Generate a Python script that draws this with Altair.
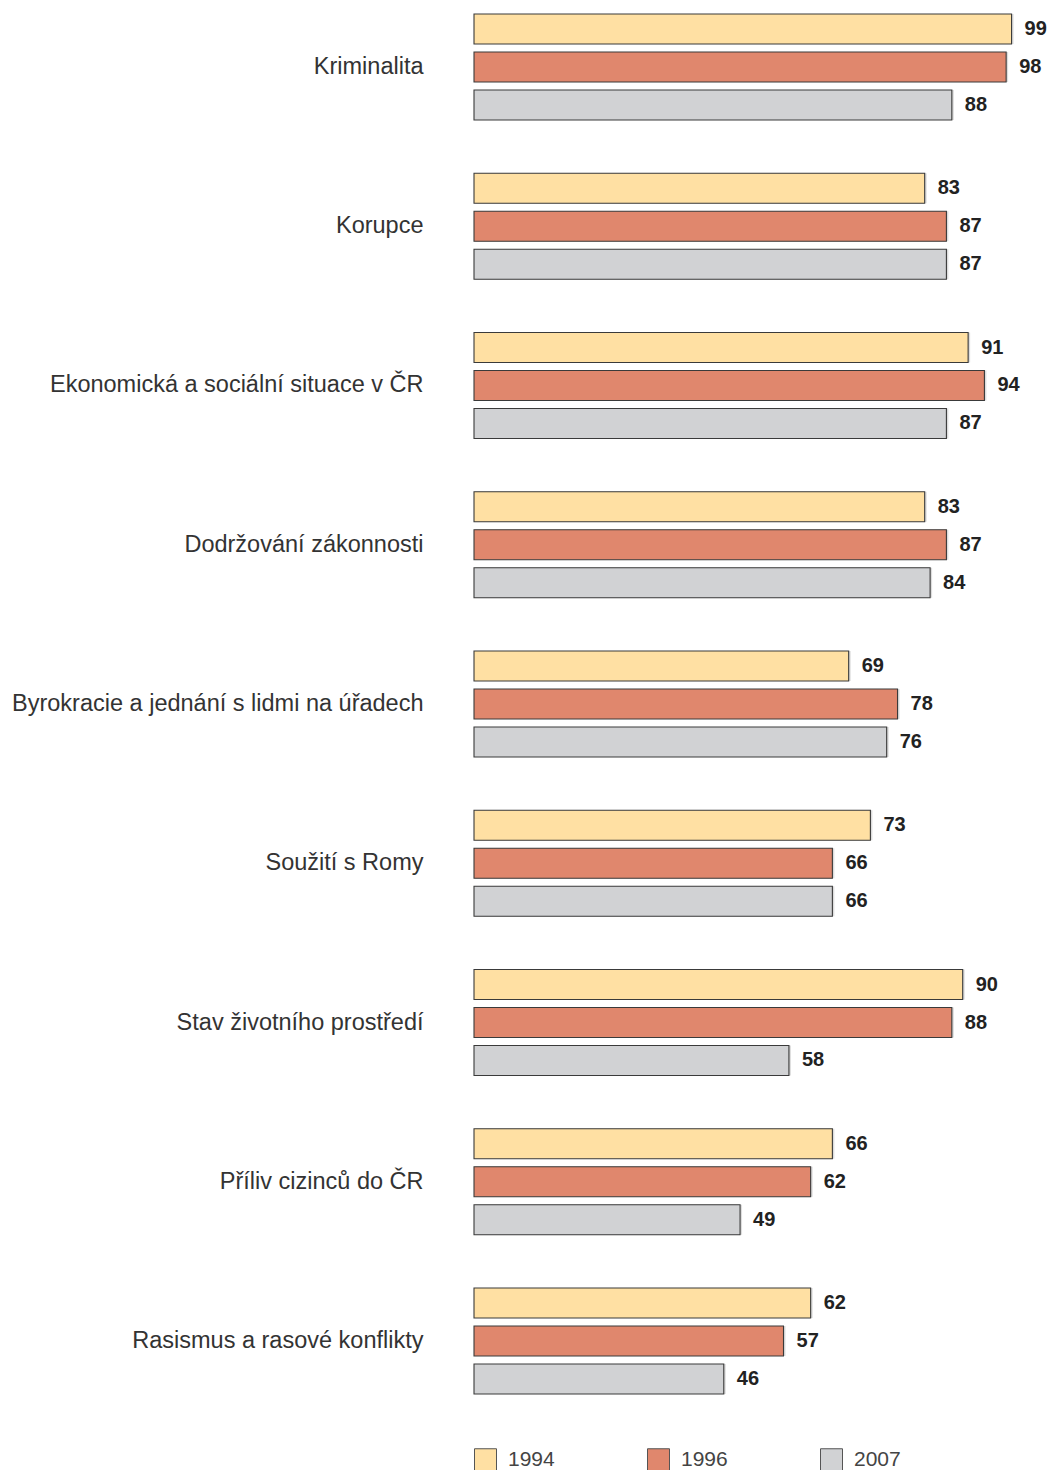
import altair as alt
import pandas as pd

categories = [
    "Kriminalita",
    "Korupce",
    "Ekonomická a sociální situace v ČR",
    "Dodržování zákonnosti",
    "Byrokracie a jednání s lidmi na úřadech",
    "Soužití s Romy",
    "Stav životního prostředí",
    "Příliv cizinců do ČR",
    "Rasismus a rasové konflikty",
]
v1994 = [99, 83, 91, 83, 69, 73, 90, 66, 62]
v1996 = [98, 87, 94, 87, 78, 66, 88, 62, 57]
v2007 = [88, 87, 87, 84, 76, 66, 58, 49, 46]
years = ["1994", "1996", "2007"]
colors = ["#FFE0A3", "#E0876D", "#D1D2D4"]

rows = []
for i, c in enumerate(categories):
    for yr, vals in zip(years, [v1994, v1996, v2007]):
        rows.append({"cat": c, "year": yr, "value": vals[i]})
df = pd.DataFrame(rows)

y = alt.Y(
    "cat:N", sort=categories, title=None,
    scale=alt.Scale(paddingInner=0.3344, paddingOuter=0),
    axis=alt.Axis(domain=False, ticks=False, grid=False, labelFontSize=23.5,
                  labelFont="Liberation Sans", labelColor="#333",
                  labelPadding=51, labelLimit=600),
)
yoff = alt.YOffset("year:N", sort=years,
                   scale=alt.Scale(paddingInner=0.2105, paddingOuter=0))
x = alt.X("value:Q", scale=alt.Scale(domain=[0, 100]), axis=None)

base = alt.Chart(df)

shadow = base.mark_bar(xOffset=2, yOffset=3, x2Offset=3, color="#666", opacity=0.22).encode(
    x=x, y=y, yOffset=yoff
)

bars = base.mark_bar(stroke="#3a3a3a", strokeWidth=1.1, opacity=1).encode(
    x=x, y=y, yOffset=yoff,
    color=alt.Color(
        "year:N", scale=alt.Scale(domain=years, range=colors),
        legend=alt.Legend(
            title=None, orient="none", legendX=0, legendY=1434,
            direction="horizontal", symbolType="square", symbolSize=484,
            symbolStrokeColor="#555", symbolStrokeWidth=1, symbolOpacity=1,
            labelFontSize=21, labelFont="Liberation Sans", labelColor="#444",
            labelOffset=11, columnPadding=90,
        ),
    ),
)

labels = base.mark_text(
    align="left", baseline="middle", dx=13,
    font="Liberation Sans", fontSize=20, fontWeight="bold", color="#222",
).encode(x=x, y=y, yOffset=yoff, text="value:Q")

chart = (
    alt.layer(shadow, bars, labels)
    .properties(width=543, height=1380,
                autosize=alt.AutoSizeParams(type="none"),
                padding={"left": 466, "top": 6, "right": 30, "bottom": 76})
    .configure_view(stroke=None)
)

chart.save("out.html", embed_options={"renderer": "svg", "actions": False})
